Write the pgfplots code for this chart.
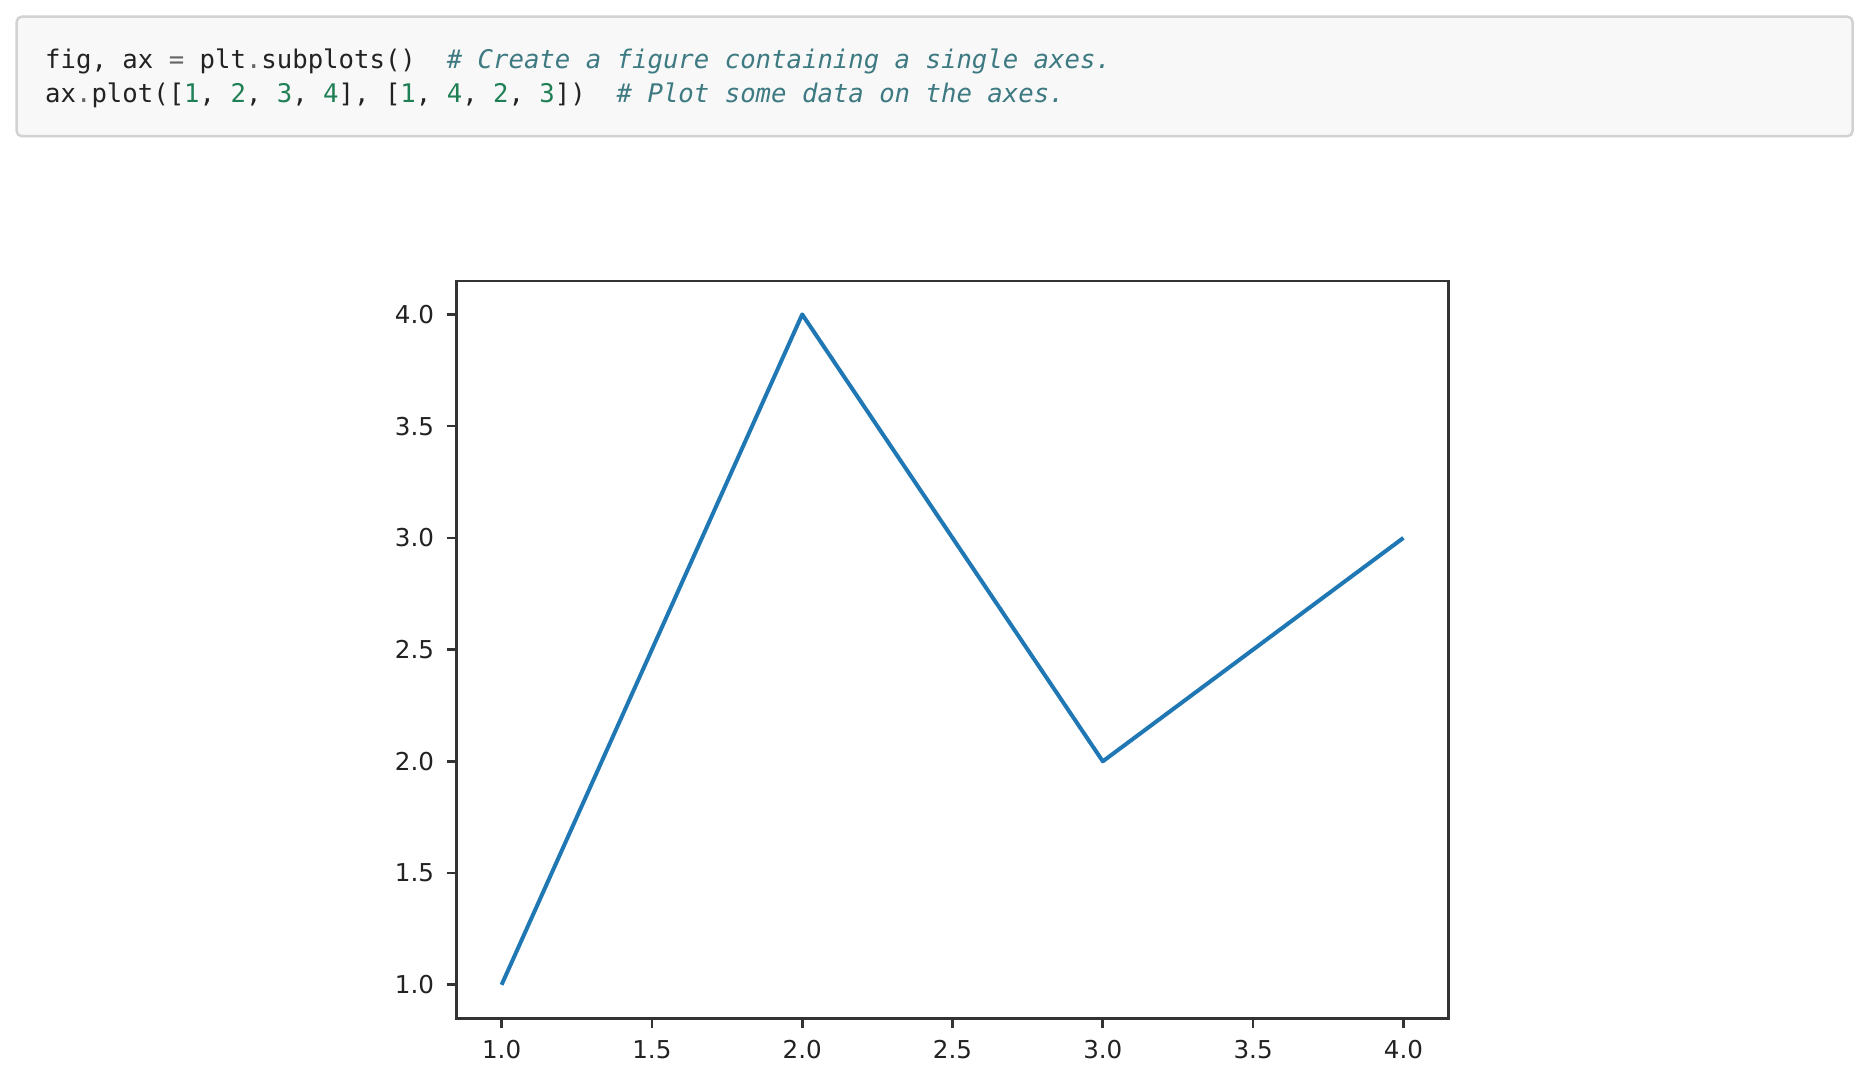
\documentclass[border=0pt]{standalone}
\usepackage{fontspec}
\setmainfont{DejaVu Sans}
\newfontfamily\codefont{DejaVu Sans Mono}
\usepackage{pgfplots}
\pgfplotsset{compat=1.18}
\definecolor{mplblue}{HTML}{1F77B4}
\definecolor{codebg}{HTML}{F8F8F8}
\definecolor{codeborder}{HTML}{D2D2D2}
\definecolor{cop}{HTML}{666666}
\definecolor{cnum}{HTML}{1F7F55}
\definecolor{ccm}{HTML}{3E7A82}
\definecolor{ctxt}{HTML}{222222}
\definecolor{spine}{HTML}{333333}
\begin{document}
\begin{tikzpicture}
\useasboundingbox[fill=white] (0,0) rectangle (187.4mm,-107.2mm);
% code block
\draw[codeborder, fill=codebg, line width=0.25mm, rounded corners=0.5mm] (1.67mm,-1.67mm) rectangle (185.25mm,-13.62mm);
\node[anchor=base west, inner sep=0pt, text=ctxt, font=\codefont\fontsize{7.3}{8}\selectfont] at (4.45mm,-6.9mm)
{fig, ax \textcolor{cop}{=} plt\textcolor{cop}{.}subplots()~~\textcolor{ccm}{\itshape \# Create a figure containing a single axes.}};
\node[anchor=base west, inner sep=0pt, text=ctxt, font=\codefont\fontsize{7.3}{8}\selectfont] at (4.45mm,-10.3mm)
{ax\textcolor{cop}{.}plot([\textcolor{cnum}{1}, \textcolor{cnum}{2}, \textcolor{cnum}{3}, \textcolor{cnum}{4}], [\textcolor{cnum}{1}, \textcolor{cnum}{4}, \textcolor{cnum}{2}, \textcolor{cnum}{3}])~~\textcolor{ccm}{\itshape \# Plot some data on the axes.}};
\begin{axis}[
  at={(45.65mm,-101.83mm)}, anchor=south west,
  scale only axis, width=99.2mm, height=73.74mm,
  xmin=0.85, xmax=4.15, ymin=0.85, ymax=4.15,
  xtick={1,1.5,2,2.5,3,3.5,4},
  ytick={1,1.5,2,2.5,3,3.5,4},
  tick align=outside, major tick length=1mm,
  axis line style={spine, line width=0.27mm},
  every tick/.style={spine, line width=0.27mm},
  xtick pos=bottom, ytick pos=left,
  /pgf/number format/assume math mode=true,
  /pgf/number format/fixed, /pgf/number format/fixed zerofill, /pgf/number format/precision=1,
  tick label style={font=\fontsize{7}{8}\selectfont, text=ctxt},
]
\addplot[mplblue, line width=0.4mm, line join=round] coordinates {(1,1) (2,4) (3,2) (4,3)};
\end{axis}
\end{tikzpicture}
\end{document}
